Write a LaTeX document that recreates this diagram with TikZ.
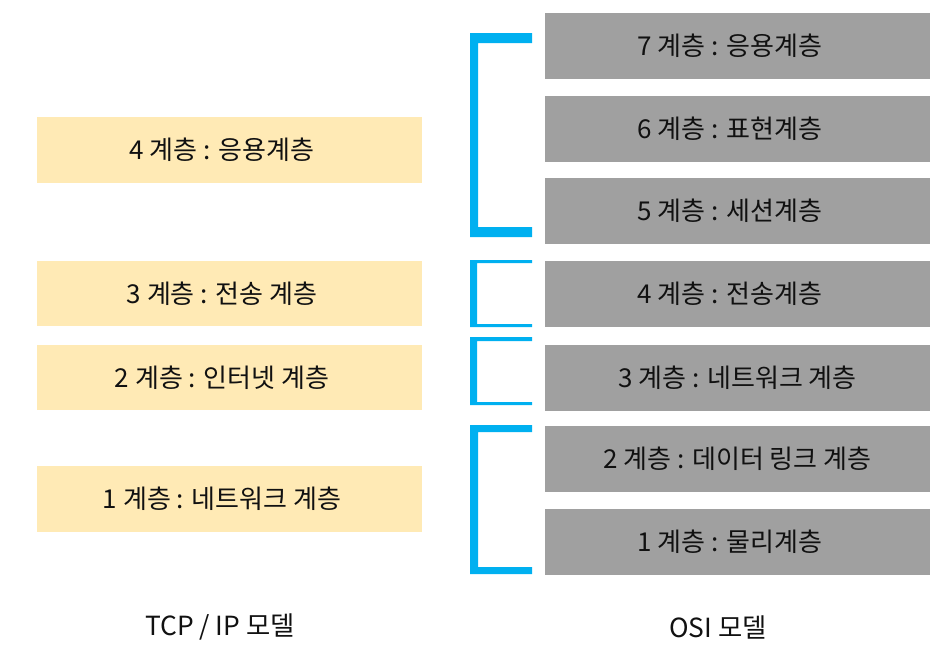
\documentclass[tikz,border=0pt]{standalone}
\usepackage{fontspec}
\setmainfont{Noto Sans CJK KR}
\usepackage{tikz}
\definecolor{tcpfill}{HTML}{FFEAB5}
\definecolor{osifill}{HTML}{A0A0A0}
\definecolor{brk}{HTML}{00B0F0}
\definecolor{txt}{HTML}{111111}

\begin{document}
\begin{tikzpicture}[x=0.02cm,y=-0.02cm,
  layer/.style={draw=none,minimum width=7.7cm,minimum height=1.32cm,inner sep=0pt,
     font=\fontsize{14.8pt}{17pt}\selectfont,text=txt},
  pad/.style={execute at end node={\hspace{0.3cm}}},
  tcp/.style={layer,pad,fill=tcpfill},
  osi/.style={layer,fill=osifill},
  brack/.style={fill=brk,draw=none},
  modelcap/.style={font=\fontsize{15pt}{18pt}\selectfont,text=txt}]
\useasboundingbox (0,0) rectangle (951,653);
% TCP/IP
\node[tcp] (t4) at (229.5,150) {4 계층 : 응용계층};
\node[tcp] (t3) at (229.5,293.5) {3 계층 : 전송 계층};
\node[tcp] (t2) at (229.5,377.5) {2 계층 : 인터넷 계층};
\node[tcp] (t1) at (229.5,499) {1 계층 : 네트워크 계층};
% OSI
\node[osi,pad] (o7) at (737.5,46) {7 계층 : 응용계층};
\node[osi,pad] (o6) at (737.5,129) {6 계층 : 표현계층};
\node[osi,pad] (o5) at (737.5,211) {5 계층 : 세션계층};
\node[osi,pad] (o4) at (737.5,294) {4 계층 : 전송계층};
\node[osi] (o3) at (737.5,378) {3 계층 : 네트워크 계층};
\node[osi] (o2) at (737.5,459) {2 계층 : 데이터 링크 계층};
\node[osi,pad] (o1) at (737.5,542) {1 계층 : 물리계층};
% brackets
\fill[brack] (532,33)--(470,33)--(470,237)--(532,237)--(532,227)--(478,227)--(478,43)--(532,43)--cycle;
\fill[brack] (532,260)--(470,260)--(470,327)--(532,327)--(532,324)--(477,324)--(477,263)--(532,263)--cycle;
\fill[brack] (532,337)--(470,337)--(470,405)--(532,405)--(532,402)--(477,402)--(477,341)--(532,341)--cycle;
\fill[brack] (532,425)--(470,425)--(470,574)--(532,574)--(532,567)--(478,567)--(478,432)--(532,432)--cycle;
% captions
\node[modelcap] (tcpcap) at (220,627) {TCP / IP 모델};
\node[modelcap] (osicap) at (718,627) {OSI 모델};
\end{tikzpicture}
\end{document}
